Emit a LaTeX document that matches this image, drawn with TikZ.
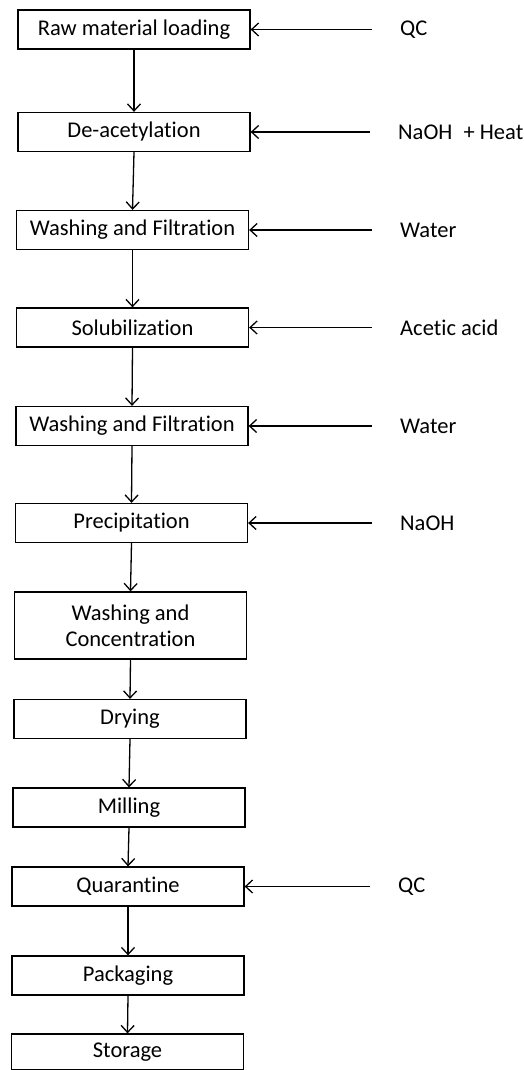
\documentclass[tikz,border=0pt]{standalone}
\usepackage{fontspec}
\setmainfont{Carlito}[Ligatures=NoCommon]
\usetikzlibrary{arrows.meta}
\begin{document}
\begin{tikzpicture}[x=1pt,y=-1pt,
  stepbox/.style={draw, line width=1.3pt, minimum width=232pt, minimum height=39pt, inner sep=0pt, align=center, font=\fontsize{22.5}{26}\selectfont},
  lab/.style={anchor=west, inner sep=0pt, font=\fontsize{22.5}{26}\selectfont},
  flow/.style={line width=1.3pt, -{Straight Barb[length=7pt,width=13pt,line width=1.3pt]}}]
\useasboundingbox (0,0) rectangle (523,1070);
\node[stepbox] (b1) at (134,29.5) {Raw material loading};
\node[stepbox] (b2) at (134,132) {De-acetylation};
\node[stepbox] (b3) at (132.5,230) {Washing and Filtration};
\node[stepbox] (b4) at (132.5,327.5) {Solubilization};
\node[stepbox] (b5) at (132,426) {Washing and Filtration};
\node[stepbox] (b6) at (131.5,523) {Precipitation};
\node[stepbox, minimum height=67pt] (b7) at (130.5,625.5) {Washing and\\Concentration};
\node[stepbox] (b8) at (130,719) {Drying};
\node[stepbox] (b9) at (129,807.5) {Milling};
\node[stepbox] (b10) at (128,886.5) {Quarantine};
\node[stepbox] (b11) at (128,975.5) {Packaging};
\node[stepbox, minimum height=36pt] (b12) at (127.5,1052) {Storage};
\foreach \a/\b in {b1/b2,b2/b3,b3/b4,b4/b5,b5/b6,b6/b7,b7/b8,b8/b9,b9/b10,b10/b11,b11/b12}
  \draw[flow] (\a.south) -- (\b.north);
\node[lab] (l1) at (400,29.5) {QC};
\node[lab] (l2) at (398,132) {NaOH\enspace+ Heat};
\node[lab] (l3) at (400,230) {Water};
\node[lab] (l4) at (400,327.5) {Acetic acid};
\node[lab] (l5) at (400,426) {Water};
\node[lab] (l6) at (400,523) {NaOH};
\node[lab] (l10) at (398,886.5) {QC};
\foreach \l/\b in {1/1,2/2,3/3,4/4,5/5,6/6,10/10}{
  \coordinate (s\l) at ([xshift=-28pt]l\l.west);
  \draw[flow] (s\l) -- (b\b.east);
}
\end{tikzpicture}
\end{document}
